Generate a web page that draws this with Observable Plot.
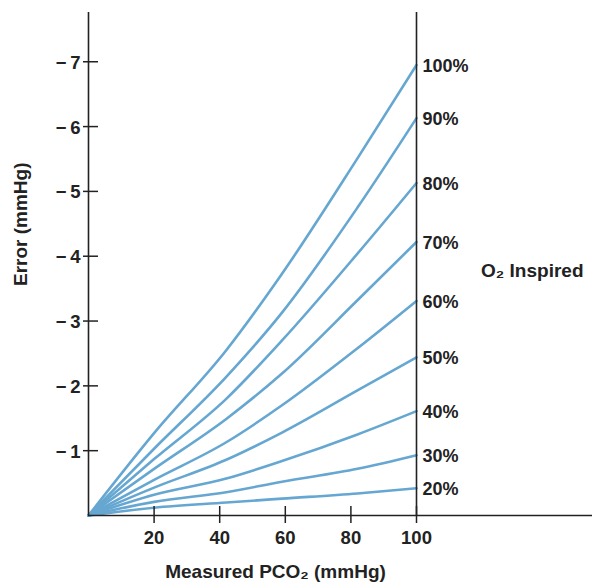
<!DOCTYPE html>
<html>
<head>
<meta charset="utf-8">
<script src="https://cdn.jsdelivr.net/npm/d3@7"></script>
<script src="https://cdn.jsdelivr.net/npm/@observablehq/plot@0.6"></script>
<style>
  html, body { margin: 0; padding: 0; background: #fff; }
  #chart { width: 592px; height: 587px; }
</style>
</head>
<body>
<div id="chart"></div>
<script>
// ---- data ----
const oxygenLabels = ["20%", "30%", "40%", "50%", "60%", "70%", "80%", "90%", "100%"];
const measuredPCO2 = [0, 20, 42, 59, 82, 100];
const err20  = [0, -0.12, -0.20, -0.26, -0.34, -0.42];
const err30  = [0, -0.21, -0.36, -0.52, -0.72, -0.93];
const err40  = [0, -0.32, -0.57, -0.84, -1.25, -1.61];
const err50  = [0, -0.43, -0.86, -1.28, -1.93, -2.44];
const err60  = [0, -0.55, -1.13, -1.70, -2.58, -3.31];
const err70  = [0, -0.72, -1.49, -2.19, -3.32, -4.22];
const err80  = [0, -0.87, -1.80, -2.70, -4.04, -5.13];
const err90  = [0, -1.03, -2.14, -3.13, -4.75, -6.13];
const err100 = [0, -1.27, -2.55, -3.73, -5.51, -6.95];
const xTicks = [20, 40, 60, 80, 100];
const yTicks = [-1, -2, -3, -4, -5, -6, -7];
const xLabel = "Measured PCO₂ (mmHg)";
const yLabel = "Error (mmHg)";
const legendTitle = "O₂ Inspired";

const seriesValues = [err20, err30, err40, err50, err60, err70, err80, err90, err100];
const rows = [];
oxygenLabels.forEach((lab, i) => {
  measuredPCO2.forEach((x, j) => rows.push({series: lab, x, y: seriesValues[i][j]}));
});

const ink = "#222222";
const lineColor = "#66a7d2";
const font = "'Liberation Sans', Arial, Helvetica, sans-serif";

const chart = Plot.plot({
  width: 592,
  height: 587,
  marginLeft: 88,
  marginRight: 0,
  marginTop: 12,
  marginBottom: 72,
  style: {fontFamily: font, fontWeight: "bold", fontSize: "18px", color: ink, background: "white", overflow: "visible"},
  x: {domain: [0, 100], range: [88, 416], axis: null},
  y: {domain: [0, -7.76], axis: null},
  marks: [
    // curves
    Plot.line(rows, {x: "x", y: "y", z: "series", stroke: lineColor, strokeWidth: 2.6, curve: "monotone-x"}),
    // axis lines
    Plot.ruleY([0], {stroke: ink, strokeWidth: 1.6}),
    Plot.ruleX([0], {stroke: ink, strokeWidth: 1.6}),
    Plot.ruleX([100], {stroke: ink, strokeWidth: 1.6}),
    // crossing ticks
    Plot.ruleY(yTicks, {y: d => d, x1: 0, x2: 0, insetLeft: -5, insetRight: -10, stroke: ink, strokeWidth: 1.5}),
    Plot.ruleX(xTicks, {x: d => d, y1: 0, y2: 0, insetTop: -9, insetBottom: -8, stroke: ink, strokeWidth: 1.5}),
    // tick labels
    Plot.text(yTicks, {y: d => d, frameAnchor: "left", textAnchor: "end", dx: -8, dy: 1, text: d => "\u2212\u2009" + Math.abs(d), fontSize: 18.5, fontWeight: "bold", fill: ink}),
    Plot.text(xTicks, {x: d => d, frameAnchor: "bottom", dy: 28, text: d => String(d), fontSize: 18.5, fontWeight: "bold", fill: ink}),
    // series labels at line ends
    Plot.text(rows, Plot.selectLast({x: "x", y: "y", z: "series", text: "series", textAnchor: "start", dx: 6, dy: 1, fontSize: 18, fontWeight: "bold", fill: ink})),
    // axis titles
    Plot.text([xLabel], {frameAnchor: "bottom", dx: -65, dy: 62, fontSize: 19, fontWeight: "bold", fill: ink}),
    Plot.text([yLabel], {frameAnchor: "left", rotate: -90, dx: -68, dy: 22, fontSize: 19, fontWeight: "bold", fill: ink}),
    Plot.text([legendTitle], {frameAnchor: "right", textAnchor: "end", dx: -9, dy: 7, fontSize: 19, fontWeight: "bold", fill: ink})
  ]
});
document.getElementById("chart").appendChild(chart);
</script>
</body>
</html>
